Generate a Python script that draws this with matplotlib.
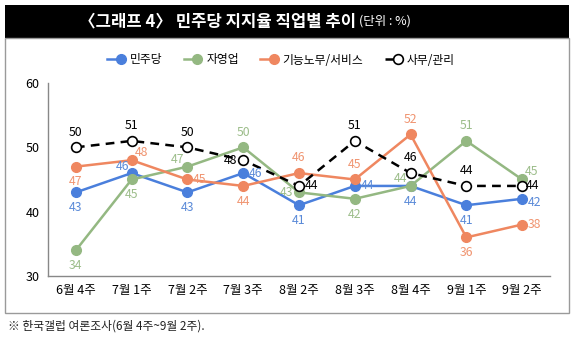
import matplotlib
matplotlib.use("Agg")
import matplotlib.pyplot as plt
from matplotlib.patches import Rectangle
from matplotlib.lines import Line2D
from matplotlib.legend_handler import HandlerBase

plt.rcParams['font.family'] = ['Noto Sans CJK KR', 'DejaVu Sans']

categories = ['6월 4주', '7월 1주', '7월 2주', '7월 3주', '8월 2주', '8월 3주', '8월 4주', '9월 1주', '9월 2주']
minju = [43, 46, 43, 46, 41, 44, 44, 41, 42]
self_emp = [34, 45, 47, 50, 43, 42, 44, 51, 45]
labor = [47, 48, 45, 44, 46, 45, 52, 36, 38]
office = [50, 51, 50, 48, 44, 51, 46, 44, 44]
series_names = ['민주당', '자영업', '기능노무/서비스', '사무/관리']
yticks = [30, 40, 50, 60]

# label placement keys
pos_minju = ['b', 'lu', 'b', 'r', 'b', 'r', 'b', 'b', 'rdd']
pos_self = ['b', 'b', 'lu', 'u', 'l', 'b', 'lu', 'u', 'ru']
pos_labor = ['b', 'ru', 'r', 'b', 'u', 'u', 'u', 'b', 'r']
pos_office = ['u', 'u', 'u', 'l', 'r', 'u', 'u', 'u', 'rd']

offs = {'b': (0, -11, 'center', 'center'), 'u': (0, 11, 'center', 'center'),
        'r': (4, 0, 'left', 'center'), 'l': (-4, 0, 'right', 'center'),
        'lu': (-2, 5, 'right', 'center'), 'ru': (2, 5.5, 'left', 'center'),
        'rd': (3, 0, 'left', 'center'), 'rdd': (4, -2.5, 'left', 'center')}

fig = plt.figure(figsize=(5.74, 3.41), dpi=100)
W, H = 574, 341

fig.patches.append(Rectangle((5 / W, 1 - 38 / H), 564 / W, 33 / H, transform=fig.transFigure,
                             facecolor='black', edgecolor='none', zorder=0))
fig.patches.append(Rectangle((5 / W, 1 - 313 / H), 564 / W, 275 / H, transform=fig.transFigure,
                             facecolor='none', edgecolor='#9a9a9a', linewidth=1.0, zorder=0))

fig.text(356 / W, 1 - 21 / H, '〈그래프 4〉 민주당 지지율 직업별 추이', color='white', fontsize=12,
         fontweight='bold', ha='right', va='center')
fig.text(359 / W, 1 - 21 / H, '(단위 : %)', color='white', fontsize=9, ha='left', va='center')

fig.text(8 / W, 1 - 326 / H, '※ 한국갤럽 여론조사(6월 4주~9월 2주).', fontsize=8.5, ha='left', va='center',
         color='#222222')

ax = fig.add_axes([48 / W, 1 - 276 / H, 502 / W, (276 - 83) / H])
x = list(range(len(categories)))

colors = ['#4a7fdc', '#94b882', '#ef8760', 'black']
lab_colors = ['#5a8ad8', '#9cbd8a', '#f09470', 'black']
data = [minju, self_emp, labor, office]
positions = [pos_minju, pos_self, pos_labor, pos_office]

MS = 7
for vals, c in zip(data[:3], colors[:3]):
    ax.plot(x, vals, color=c, lw=1.8, marker='o', ms=MS, zorder=3)
ax.plot(x, office, color='black', lw=1.8, ls=(0, (3.5, 2.5)), marker='o', ms=MS,
        mfc='white', mec='black', mew=1.2, zorder=4)

for vals, p, lc in zip(data, positions, lab_colors):
    for xi, v, pp in zip(x, vals, p):
        dx, dy, ha, va = offs[pp]
        ax.annotate(str(v), (xi, v), xytext=(dx, dy), textcoords='offset points',
                    ha=ha, va=va, fontsize=8.8, color=lc, zorder=5)

ax.set_xlim(-0.5, 8.5)
ax.set_ylim(30, 60)
ax.set_xticks(x)
ax.set_xticklabels(categories, fontsize=9)
ax.set_yticks(yticks)
ax.set_yticklabels([str(t) for t in yticks], fontsize=9)
ax.tick_params(length=0, pad=6)
for s in ['top', 'right']:
    ax.spines[s].set_visible(False)
for s in ['left', 'bottom']:
    ax.spines[s].set_color('#888888')
    ax.spines[s].set_linewidth(1.0)


class EndMarkerHandler(HandlerBase):
    def create_artists(self, legend, orig, xdescent, ydescent, width, height, fontsize, trans):
        y = height / 2 - ydescent
        line = Line2D([-xdescent, width - xdescent - 3], [y, y], color=orig.get_color(),
                      lw=orig.get_linewidth(), ls=orig.get_linestyle(), transform=trans)
        mk = Line2D([width - xdescent - 3], [y], marker='o', ms=orig.get_markersize(),
                    mfc=orig.get_markerfacecolor(), mec=orig.get_markeredgecolor(),
                    mew=orig.get_markeredgewidth(), ls='none', transform=trans)
        return [line, mk]


handles = []
for name, c in zip(series_names[:3], colors[:3]):
    handles.append(Line2D([], [], color=c, lw=1.8, marker='o', ms=MS, label=name))
handles.append(Line2D([], [], color='black', lw=1.8, ls=(0, (2, 1.5)), marker='o', ms=MS,
                      mfc='white', mec='black', mew=1.2, label=series_names[3]))
fig.legend(handles=handles, loc='center', bbox_to_anchor=(0.49, 1 - 60 / H), ncol=4, frameon=False,
           fontsize=8.5, handlelength=1.5, handletextpad=0.4, columnspacing=1.8,
           handler_map={Line2D: EndMarkerHandler()})

fig.savefig('out.png', dpi=100)
